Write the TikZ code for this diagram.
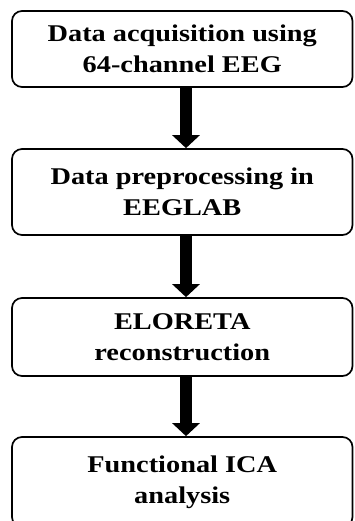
\documentclass[tikz,border=0pt]{standalone}
\usepackage{fontspec}
\setmainfont{Liberation Serif}[FakeStretch=1.18]
\usetikzlibrary{arrows.meta}
\tikzset{
  stagebox/.style={draw=black, line width=1.7pt, rounded corners=10pt,
    minimum width=340.5pt, align=center, inner sep=0pt,
    font=\fontsize{24}{31}\selectfont\bfseries},
  flowarrow/.style={line width=12pt,
    -{Triangle[width=27pt,length=13pt]}}
}
\begin{document}
\begin{tikzpicture}[x=1pt,y=-1pt]
  \clip (0,0) rectangle (354,521);
  \useasboundingbox (0,0) rectangle (354,521);
  % process stages
  \node[stagebox, minimum height=76pt] (acq) at (182.25,49) {Data acquisition using\\64-channel EEG};
  \node[stagebox, minimum height=86pt] (pre) at (182.25,192) {Data preprocessing in\\EEGLAB};
  \node[stagebox, minimum height=78pt] (rec) at (182.25,337) {ELORETA\\reconstruction};
  \node[stagebox, minimum height=90pt] (ica) at (182.25,482) {Functional ICA\\analysis};
  % arrow axis
  \coordinate (ax) at (186,0);
  \draw[flowarrow] (acq.south -| ax) -- (pre.north -| ax);
  \draw[flowarrow] (pre.south -| ax) -- (rec.north -| ax);
  \draw[flowarrow] (rec.south -| ax) -- (ica.north -| ax);
\end{tikzpicture}
\end{document}
